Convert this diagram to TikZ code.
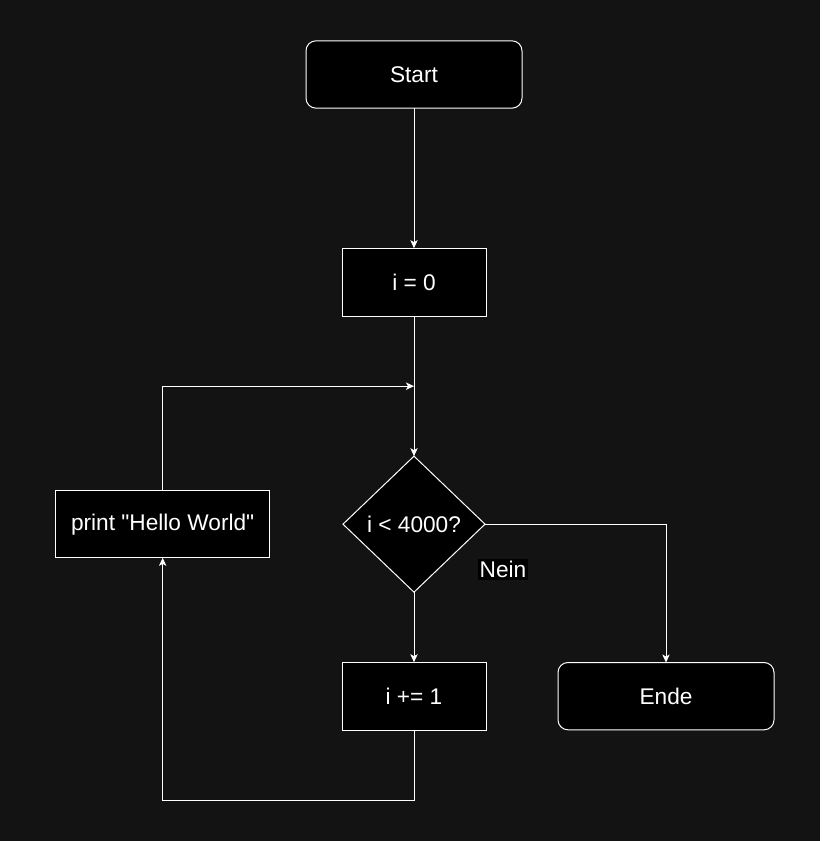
\documentclass[tikz,border=0pt]{standalone}
\usepackage{fontspec}
\setmainfont{Liberation Sans}
\usepackage{tikz}
\usetikzlibrary{shapes, arrows.meta, positioning, calc}
\definecolor{bgdark}{HTML}{131313}
\tikzset{
	box/.style={draw=white, fill=black, text=white, line width=0.75pt, outer sep=0pt, minimum width=108pt, minimum height=51pt, font=\fontsize{17}{20}\selectfont},
	term/.style={box, rounded corners=7.5pt, minimum width=162pt, minimum height=50.5pt},
	cond/.style={box, diamond, inner sep=0pt, minimum width=106.5pt, minimum height=102pt},
	flow/.style={draw=white, line width=0.75pt, -{Stealth[length=6pt,width=5.5pt,inset=1.5pt]}},
	lbl/.style={fill=black, text=white, inner sep=1.5pt, font=\fontsize{17}{20}\selectfont}
}
\begin{document}
\begin{tikzpicture}[node distance=105pt and 54pt]
			% background
			\fill[white] (-310.5pt,55.875pt) rectangle (306pt,-574.875pt);
			\fill[bgdark] (-310.5pt,55.875pt) rectangle (304.5pt,-574.875pt);
			\useasboundingbox (-310.5pt,55.875pt) rectangle (306pt,-574.875pt);
			\node[term] (start) {Start};
			\node[box, below =of start] (init) {i = 0};
			\node[cond, below =of init] (check) {i < 4000?};
			\node[box, below =52.5pt of check] (incr) {i += 1};
			\node[term, right =54pt of incr] (ende) {Ende};
			\node[box, left =54.75pt of check, minimum width=161pt, minimum height=50.5pt] (print) {print \textquotedbl Hello World\textquotedbl};
			\coordinate[below =52.5pt of init] (join);
			\coordinate[below =52.5pt of incr] (low);
			\foreach \from/\to in {start/init,init/check,check/incr}
				\draw[flow] (\from) -- (\to);
			\draw[flow] (print.north) |- (join);
			\draw[flow] (check.east) -| (ende.north);
			\draw[flow] (incr.south) -- (low) -| (print.south);
			\node[lbl] (nein) at ($(check.east)+(13.5pt,-34pt)$) {Nein};
		\end{tikzpicture}
\end{document}
